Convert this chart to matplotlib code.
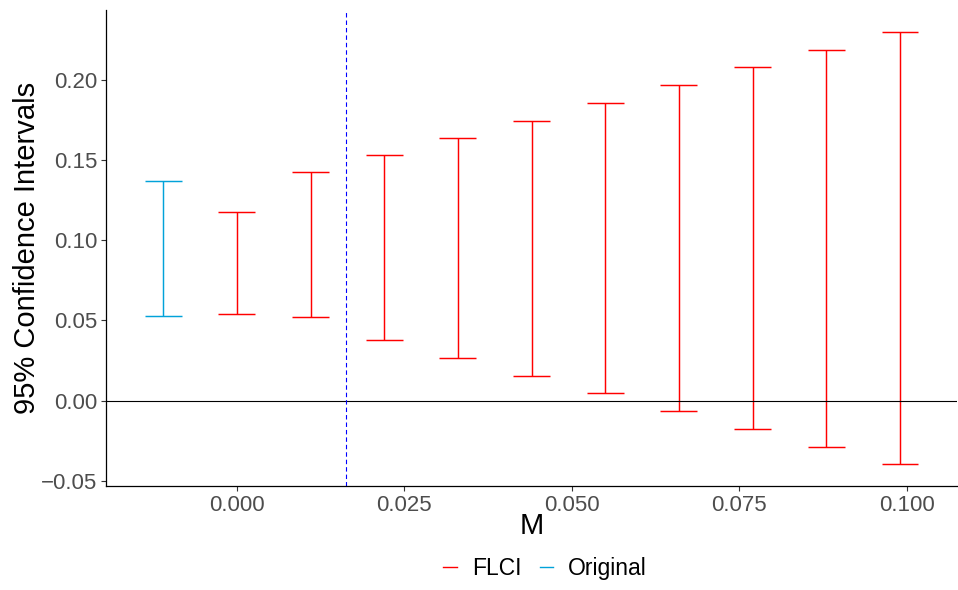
import numpy as np
import matplotlib
matplotlib.use('Agg')
import matplotlib.pyplot as plt
from matplotlib.lines import Line2D

plt.rcParams['font.family'] = ['Liberation Sans', 'DejaVu Sans']

# Sensitivity values (M) and confidence bounds
m_original = [-0.011]
lb_original = [0.0530]
ub_original = [0.1371]

m_flci = [0.000, 0.011, 0.022, 0.033, 0.044, 0.055, 0.066, 0.077, 0.088, 0.099]
lb_flci = [0.0543, 0.0520, 0.0379, 0.0266, 0.0154, 0.0048, -0.0062, -0.0174, -0.0285, -0.0394]
ub_flci = [0.1178, 0.1422, 0.1528, 0.1639, 0.1744, 0.1855, 0.1965, 0.2077, 0.2186, 0.2298]

breakdown_m = 0.0163
cap_width = 0.0055

x_ticks = [0.000, 0.025, 0.050, 0.075, 0.100]
y_ticks = [-0.05, 0.00, 0.05, 0.10, 0.15, 0.20]

red = '#FF0000'
blue = '#01A2D9'

fig = plt.figure(figsize=(9.58, 5.90), dpi=100)
ax = fig.add_axes([0.1107, 0.1768, 0.8883, 0.8062])


def draw_bars(ms, lbs, ubs, color):
    for m, lo, hi in zip(ms, lbs, ubs):
        ax.plot([m, m], [lo, hi], color=color, lw=1.05, solid_capstyle='butt')
        ax.plot([m - cap_width / 2, m + cap_width / 2], [lo, lo], color=color, lw=1.05, solid_capstyle='butt')
        ax.plot([m - cap_width / 2, m + cap_width / 2], [hi, hi], color=color, lw=1.05, solid_capstyle='butt')


draw_bars(m_original, lb_original, ub_original, blue)
draw_bars(m_flci, lb_flci, ub_flci, red)

ax.axhline(0, color='black', lw=0.8)
ax.axvline(breakdown_m, color='blue', lw=0.8, ls=(0, (4, 2.7)))

# ggplot-like 5% expansion
xlo = min(m_original) - cap_width / 2
xhi = max(m_flci) + cap_width / 2
ylo = min(lb_flci + lb_original)
yhi = max(ub_flci + ub_original)
ax.set_xlim(xlo - 0.05 * (xhi - xlo), xhi + 0.05 * (xhi - xlo))
ax.set_ylim(ylo - 0.05 * (yhi - ylo), yhi + 0.05 * (yhi - ylo))

ax.set_xticks(x_ticks)
ax.set_xticklabels(['%.3f' % v for v in x_ticks])
ax.set_yticks(y_ticks)
ax.set_yticklabels([('%.2f' % v).replace('-', '\u2212') for v in y_ticks])
ax.tick_params(labelsize=16, labelcolor='#4D4D4D', color='#333333', length=3.5, width=0.8, pad=3)

for side in ['top', 'right']:
    ax.spines[side].set_visible(False)
for side in ['left', 'bottom']:
    ax.spines[side].set_linewidth(0.9)

ax.set_xlabel('M', fontsize=21, labelpad=-3)
ax.set_ylabel('95% Confidence Intervals', fontsize=21, labelpad=0)

handles = [Line2D([], [], color=red, lw=1.0), Line2D([], [], color=blue, lw=1.0)]
fig.legend(handles, ['FLCI', 'Original'], loc='center', bbox_to_anchor=(0.569, 0.037),
           ncol=2, frameon=False, fontsize=16.5, handlelength=0.6, handletextpad=0.65,
           columnspacing=0.8)

fig.savefig('out.png', dpi=100)
